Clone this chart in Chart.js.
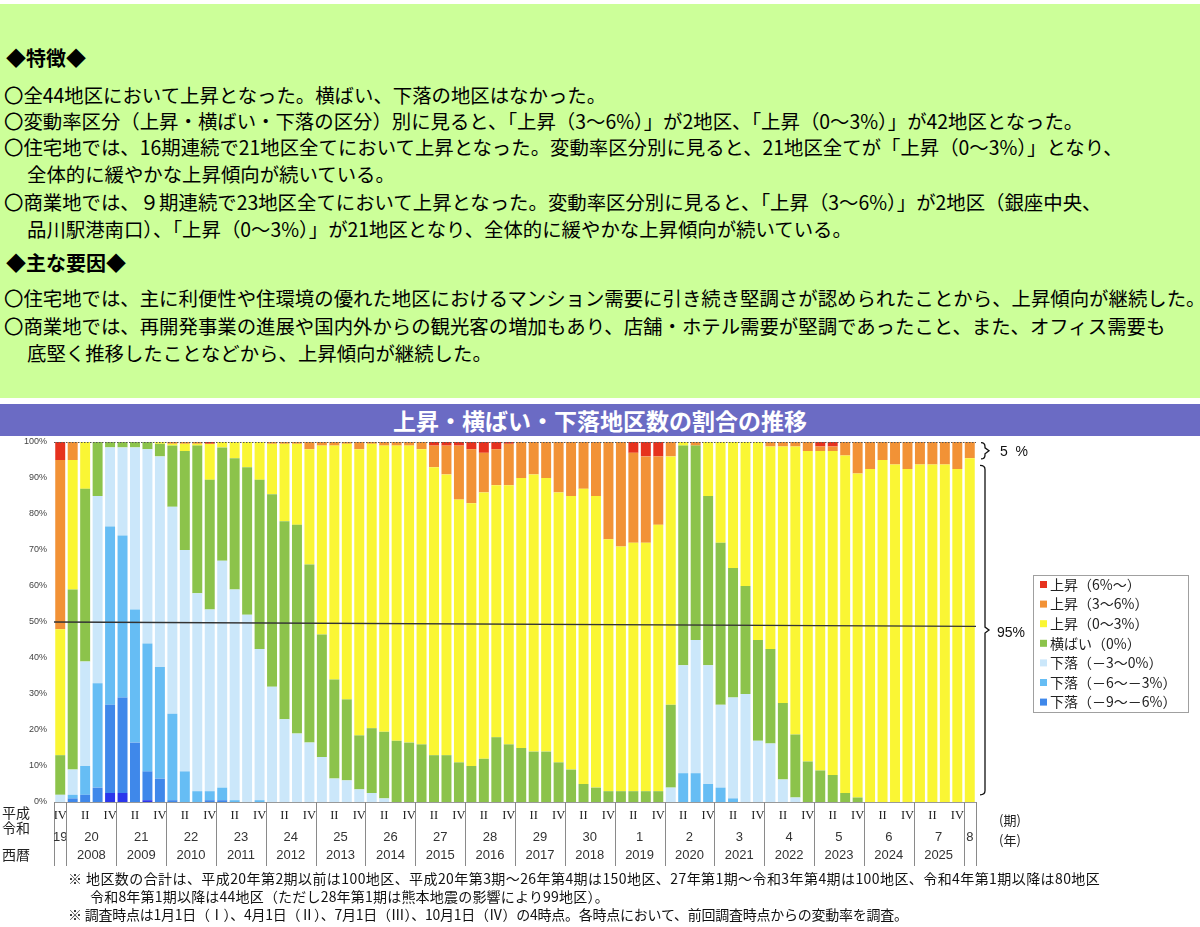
<!DOCTYPE html>
<html lang="ja">
<head>
<meta charset="utf-8">
<title>上昇・横ばい・下落地区数の割合の推移</title>
<script src="https://cdn.jsdelivr.net/npm/chart.js@4.4.1/dist/chart.umd.min.js"></script>
<style>
  html, body { margin: 0; padding: 0; background: #fff; }
  body { width: 1200px; height: 927px; position: relative; overflow: hidden;
         font-family: 'Noto Sans CJK JP', sans-serif; color: #111; }
  #summary { position: absolute; left: 0; top: 4px; width: 1200px; height: 394px; background: #ccff99; }
  #summary div { position: absolute; white-space: nowrap; font-size: 19.4px; line-height: 22px; color: #000; }
  #summary .head { font-weight: bold; font-size: 20px; }
  #title { position: absolute; left: 0; top: 404px; width: 1200px; height: 32px; background: #6b6bc4;
           color: #fff; font-size: 23px; font-weight: bold; text-align: center; line-height: 32px; }
  #chartBox { position: absolute; left: 0; top: 436px; width: 1200px; height: 434px; }
  #chartBox canvas { display: block; }
  #notes div { position: absolute; white-space: nowrap; font-size: 14px; line-height: 18px; color: #111; }
</style>
</head>
<body>
<div id="summary">
  <div class="head" style="left:6px;top:43px">◆特徴◆</div>
  <div style="left:4px;top:80px">〇全44地区において上昇となった。横ばい、下落の地区はなかった。</div>
  <div style="left:4px;top:106px">〇変動率区分（上昇・横ばい・下落の区分）別に見ると、「上昇（3〜6%）」が2地区、「上昇（0〜3%）」が42地区となった。</div>
  <div style="left:4px;top:132px">〇住宅地では、16期連続で21地区全てにおいて上昇となった。変動率区分別に見ると、21地区全てが「上昇（0〜3%）」となり、</div>
  <div style="left:27px;top:159px">全体的に緩やかな上昇傾向が続いている。</div>
  <div style="left:4px;top:187px">〇商業地では、９期連続で23地区全てにおいて上昇となった。変動率区分別に見ると、「上昇（3〜6%）」が2地区（銀座中央、</div>
  <div style="left:27px;top:214px">品川駅港南口）、「上昇（0〜3%）」が21地区となり、全体的に緩やかな上昇傾向が続いている。</div>
  <div class="head" style="left:6px;top:248px">◆主な要因◆</div>
  <div style="left:4px;top:283px">〇住宅地では、主に利便性や住環境の優れた地区におけるマンション需要に引き続き堅調さが認められたことから、上昇傾向が継続した。</div>
  <div style="left:4px;top:311px">〇商業地では、再開発事業の進展や国内外からの観光客の増加もあり、店舗・ホテル需要が堅調であったこと、また、オフィス需要も</div>
  <div style="left:27px;top:338px">底堅く推移したことなどから、上昇傾向が継続した。</div>
</div>
<div id="title">上昇・横ばい・下落地区数の割合の推移</div>
<div id="chartBox"><canvas id="ratioChart" width="1200" height="434"></canvas></div>
<div id="notes">
  <div style="left:68px;top:869px;letter-spacing:0.42px">※ 地区数の合計は、平成20年第2期以前は100地区、平成20年第3期～26年第4期は150地区、27年第1期～令和3年第4期は100地区、令和4年第1期以降は80地区</div>
  <div style="left:90px;top:887px;letter-spacing:0.2px">令和8年第1期以降は44地区（ただし28年第1期は熊本地震の影響により99地区）。</div>
  <div style="left:68px;top:905px;letter-spacing:-0.25px">※ 調査時点は1月1日（Ⅰ）、4月1日（Ⅱ）、7月1日（Ⅲ）、10月1日（Ⅳ）の4時点。各時点において、前回調査時点からの変動率を調査。</div>
</div>

<script>
// survey periods, oldest first (year-quarter)
const categories = [
  '2007-Q4',
  '2008-Q1', '2008-Q2', '2008-Q3', '2008-Q4', '2009-Q1', '2009-Q2', '2009-Q3', '2009-Q4',
  '2010-Q1', '2010-Q2', '2010-Q3', '2010-Q4', '2011-Q1', '2011-Q2', '2011-Q3', '2011-Q4',
  '2012-Q1', '2012-Q2', '2012-Q3', '2012-Q4', '2013-Q1', '2013-Q2', '2013-Q3', '2013-Q4',
  '2014-Q1', '2014-Q2', '2014-Q3', '2014-Q4', '2015-Q1', '2015-Q2', '2015-Q3', '2015-Q4',
  '2016-Q1', '2016-Q2', '2016-Q3', '2016-Q4', '2017-Q1', '2017-Q2', '2017-Q3', '2017-Q4',
  '2018-Q1', '2018-Q2', '2018-Q3', '2018-Q4', '2019-Q1', '2019-Q2', '2019-Q3', '2019-Q4',
  '2020-Q1', '2020-Q2', '2020-Q3', '2020-Q4', '2021-Q1', '2021-Q2', '2021-Q3', '2021-Q4',
  '2022-Q1', '2022-Q2', '2022-Q3', '2022-Q4', '2023-Q1', '2023-Q2', '2023-Q3', '2023-Q4',
  '2024-Q1', '2024-Q2', '2024-Q3', '2024-Q4', '2025-Q1', '2025-Q2', '2025-Q3', '2025-Q4',
  '2026-Q1'
];
const quarterTicks = { Q2: 'II', Q4: 'IV' };
const calendarYears = ['2007', '2008', '2009', '2010', '2011', '2012', '2013', '2014', '2015', '2016',
  '2017', '2018', '2019', '2020', '2021', '2022', '2023', '2024', '2025', '2026'];
const eraYears = ['19', '20', '21', '22', '23', '24', '25', '26', '27', '28',
  '29', '30', '1', '2', '3', '4', '5', '6', '7', '8'];
const westernYears = ['', '2008', '2009', '2010', '2011', '2012', '2013', '2014', '2015', '2016',
  '2017', '2018', '2019', '2020', '2021', '2022', '2023', '2024', '2025', ''];

// share of districts (%) per class, bottom of the stack first
const fall12 = [0,
  0, 0, 0, 2.5,  2.5, 0, 0.5, 0,
  0, 0, 0, 0,  0, 0, 0, 0,
  0, 0, 0, 0,  0, 0, 0, 0,
  0, 0, 0, 0,  0, 0, 0, 0,
  0, 0, 0, 0,  0, 0, 0, 0,
  0, 0, 0, 0,  0, 0, 0, 0,
  0, 0, 0, 0,  0, 0, 0, 0,
  0, 0, 0, 0,  0, 0, 0, 0,
  0, 0, 0, 0,  0, 0, 0, 0,
  0];
const fall9 = [0,
  1, 2, 4, 24.5,  26.5, 16.5, 8, 6.5,
  0.5, 0, 0, 0.5,  0.5, 0, 0, 0,
  0, 0, 0, 0,  0, 0, 0, 0,
  0, 0, 0, 0,  0, 0, 0, 0,
  0, 0, 0, 0,  0, 0, 0, 0,
  0, 0, 0, 0,  0, 0, 0, 0,
  0, 0, 0, 0,  0, 0, 0, 0,
  0, 0, 0, 0,  0, 0, 0, 0,
  0, 0, 0, 0,  0, 0, 0, 0,
  0];
const fall6 = [0,
  1, 8, 29, 49.5,  45, 37, 35.5, 31,
  24, 8.5, 3, 2.5,  3.5, 0.5, 0, 0.5,
  0, 0, 0, 0,  0, 0, 0, 0,
  0, 0, 0, 0,  0, 0, 0, 0,
  0, 0, 0, 0,  0, 0, 0, 0,
  0, 0, 0, 0,  0, 0, 0, 0,
  0, 8, 8, 5,  4, 1, 0, 0,
  0, 0, 0, 0,  0, 0, 0, 0,
  0, 0, 0, 0,  0, 0, 0, 0,
  0];
const fall3 = [2,
  7, 29, 52, 22,  24.5, 45, 54, 58.5,
  57.5, 61.5, 55, 50.5,  63, 58.5, 52, 42,
  32, 23, 19, 16.5,  12.5, 6.5, 6, 3.5,
  2.5, 1, 0, 0,  0, 0, 0, 0,
  0, 0, 0, 0,  0, 0, 0, 0,
  0, 0, 0, 0,  0, 0, 0, 0,
  4, 30, 37, 33,  23, 28, 30, 17,
  16.25, 6.25, 1.25, 0,  0, 0, 0, 0,
  0, 0, 0, 0,  0, 0, 0, 0,
  0];
const flat = [11,
  50, 48, 15, 1.5,  1.5, 1.5, 2, 3.5,
  17, 27.5, 41, 36,  31.5, 36.5, 41, 47,
  53.5, 55, 58, 49.5,  34, 27.5, 22.5, 15,
  18, 18.5, 17, 16.5,  16, 13, 13, 11,
  10, 12, 18, 16,  15, 14, 14, 11,
  9, 5, 4, 3,  3, 3, 3, 3,
  23, 61, 54, 47,  45, 36, 30, 28,
  26.25, 21.25, 17.5, 11.25,  8.75, 7.5, 2.5, 1.25,
  0, 0, 0, 0,  0, 0, 0, 0,
  0];
const rise0 = [35,
  36, 13, 0, 0,  0, 0, 0, 0.5,
  0.5, 2, 0.5, 10,  1.5, 4.5, 7, 10.5,
  14, 21.5, 22.5, 32,  52.5, 65, 71, 79.5,
  79, 79.5, 82, 82.5,  82, 80, 78, 73,
  73, 74, 70, 72,  75, 77, 76, 75,
  76, 82, 81, 70,  68, 69, 69, 74,
  69, 1, 0, 15,  28, 35, 40, 55,
  56.25, 71.25, 80, 86.25,  88.75, 90, 93.75, 90,
  92.5, 95, 93.75, 92.5,  93.75, 93.75, 93.75, 92.5,
  95.5];
const rise3 = [47,
  5, 0, 0, 0,  0, 0, 0, 0,
  0.5, 0.5, 0.5, 0,  0, 0, 0, 0,
  0.5, 0.5, 0.5, 2,  1, 1, 0.5, 2,
  0.5, 1, 1, 1,  2, 6, 8, 15,
  15, 11, 10, 11.5,  10, 9, 10, 14,
  15, 13, 15, 27,  29, 25, 24, 19,
  4, 0, 1, 0,  0, 0, 0, 0,
  1.25, 1.25, 1.25, 2.5,  1.25, 1.25, 3.75, 8.75,
  7.5, 5, 6.25, 7.5,  6.25, 6.25, 6.25, 7.5,
  4.5];
const rise6 = [5,
  0, 0, 0, 0,  0, 0, 0, 0,
  0, 0, 0, 0.5,  0, 0, 0, 0,
  0, 0, 0, 0,  0, 0, 0, 0,
  0, 0, 0, 0,  0, 1, 1, 1,
  2, 3, 2, 0.5,  0, 0, 0, 0,
  0, 0, 0, 0,  0, 3, 4, 4,
  0, 0, 0, 0,  0, 0, 0, 0,
  0, 0, 0, 0,  1.25, 1.25, 0, 0,
  0, 0, 0, 0,  0, 0, 0, 0,
  0];

const JP = "'Noto Sans CJK JP', sans-serif";
const SANS = "'Liberation Sans', Arial, sans-serif";

/**
 * Axis rows, guide lines, brackets and legend box
 */
const chartDecor = {
    id: 'chartDecor',
    afterDraw(chart) {
        const { ctx, chartArea: area, scales: { x, y } } = chart;
        const half = (x.getPixelForValue(1) - x.getPixelForValue(0)) / 2;
        ctx.save();

        // dotted top line at 100%
        const top = Math.round(y.getPixelForValue(100)) + 0.5;
        ctx.strokeStyle = '#555';
        ctx.lineWidth = 1;
        ctx.setLineDash([1.5, 1.5]);
        ctx.beginPath();
        ctx.moveTo(area.left, top);
        ctx.lineTo(area.right, top);
        ctx.stroke();
        ctx.setLineDash([]);

        // 50% guide line (drawn slightly sloping, as in the source)
        ctx.strokeStyle = '#333';
        ctx.lineWidth = 1.3;
        ctx.beginPath();
        ctx.moveTo(area.left, y.getPixelForValue(50));
        ctx.lineTo(area.right, y.getPixelForValue(48.8));
        ctx.stroke();

        // quarter row
        ctx.fillStyle = '#222';
        ctx.textAlign = 'center';
        ctx.textBaseline = 'middle';
        ctx.font = "12.5px 'Liberation Serif', serif";
        categories.forEach((c, i) => {
            const label = quarterTicks[c.slice(-2)];
            if (label) ctx.fillText(label, x.getPixelForValue(i), area.bottom + 14);
        });

        // year groups with separators
        ctx.strokeStyle = '#8a8a8a';
        ctx.lineWidth = 1;
        let lastRight = area.left;
        calendarYears.forEach((yr, g) => {
            const idx = categories.map((c, i) => (c.startsWith(yr) ? i : -1)).filter(i => i >= 0);
            const left = x.getPixelForValue(idx[0]) - half;
            const right = x.getPixelForValue(idx[idx.length - 1]) + half;
            const mid = (left + right) / 2;
            ctx.beginPath();
            ctx.moveTo(Math.round(left) + 0.5, area.bottom);
            ctx.lineTo(Math.round(left) + 0.5, area.bottom + 64);
            ctx.stroke();
            ctx.font = '13px ' + SANS;
            ctx.fillStyle = '#333';
            ctx.fillText(eraYears[g], mid, area.bottom + 35);
            if (westernYears[g]) ctx.fillText(westernYears[g], mid, area.bottom + 53);
            lastRight = right;
        });
        ctx.beginPath();
        ctx.moveTo(Math.round(lastRight) + 0.5, area.bottom);
        ctx.lineTo(Math.round(lastRight) + 0.5, area.bottom + 64);
        ctx.stroke();

        // row captions
        ctx.textAlign = 'left';
        ctx.fillStyle = '#222';
        ctx.font = '14px ' + JP;
        ctx.fillText('平成', 2, area.bottom + 11);
        ctx.fillText('令和', 2, area.bottom + 26);
        ctx.fillText('西暦', 2, area.bottom + 53);
        ctx.font = '13px ' + JP;
        ctx.fillText('(期)', 999, area.bottom + 18);
        ctx.fillText('(年)', 999, area.bottom + 38);

        // brackets on the right
        const bracket = (x0, yTop, yBot, w) => {
            const m = (yTop + yBot) / 2;
            ctx.beginPath();
            ctx.moveTo(x0, yTop);
            ctx.quadraticCurveTo(x0 + w, yTop, x0 + w, yTop + 4);
            ctx.lineTo(x0 + w, m - 3);
            ctx.lineTo(x0 + w + 4, m);
            ctx.lineTo(x0 + w, m + 3);
            ctx.lineTo(x0 + w, yBot - 4);
            ctx.quadraticCurveTo(x0 + w, yBot, x0, yBot);
            ctx.stroke();
            return m;
        };
        ctx.strokeStyle = '#111';
        ctx.lineWidth = 1.3;
        const m5 = bracket(981, y.getPixelForValue(99.8), y.getPixelForValue(95.3), 4);
        const m95 = bracket(980, y.getPixelForValue(93.5), y.getPixelForValue(2), 5);
        ctx.fillStyle = '#111';
        ctx.font = '14px ' + SANS;
        ctx.fillText('5  %', 1000, m5 + 1);
        ctx.fillText('95%', 997, m95 + 3);

        // legend box
        const items = chart.data.datasets.filter(d => !d.legendHidden).reverse();
        ctx.fillStyle = '#fff';
        ctx.fillRect(1033, 139, 155, 137);
        ctx.strokeStyle = '#a0a0a0';
        ctx.lineWidth = 1;
        ctx.strokeRect(1033.5, 139.5, 155, 137);
        ctx.font = '14px ' + JP;
        items.forEach((d, i) => {
            const ry = 148.5 + i * 19.6;
            ctx.fillStyle = d.backgroundColor;
            ctx.fillRect(1040, ry - 3.5, 7, 7);
            ctx.fillStyle = '#222';
            ctx.fillText(d.label, 1050, ry);
        });

        ctx.restore();
    }
};

new Chart(document.getElementById('ratioChart'), {
    type: 'bar',
    data: {
        labels: categories,
        datasets: [
            { label: '下落（－12～－9%）', data: fall12, backgroundColor: '#2a36ec', legendHidden: true },
            { label: '下落（－9～－6%）', data: fall9, backgroundColor: '#3f88ea' },
            { label: '下落（－6～－3%）', data: fall6, backgroundColor: '#66bdf4' },
            { label: '下落（－3～0%）', data: fall3, backgroundColor: '#cbe7fa' },
            { label: '横ばい（0%）', data: flat, backgroundColor: '#8cc34b' },
            { label: '上昇（0～3%）', data: rise0, backgroundColor: '#faf634' },
            { label: '上昇（3～6%）', data: rise3, backgroundColor: '#f29236' },
            { label: '上昇（6%～）', data: rise6, backgroundColor: '#e6321e' }
        ]
    },
    options: {
        responsive: false,
        animation: false,
        layout: { padding: { top: 6, right: 224, left: 0, bottom: 0 } },
        datasets: { bar: { barPercentage: 0.8, categoryPercentage: 1.0, borderWidth: 0 } },
        plugins: { legend: { display: false }, tooltip: { enabled: false } },
        scales: {
            x: {
                stacked: true,
                grid: { display: false, drawTicks: false },
                ticks: { display: false },
                border: { display: true, color: '#999' },
                afterFit(scale) { scale.height = 68; }
            },
            y: {
                stacked: true,
                min: 0,
                max: 100,
                grid: { display: false, drawTicks: false },
                border: { display: false },
                ticks: {
                    stepSize: 10,
                    padding: 7,
                    color: '#444',
                    font: { family: 'Liberation Sans', size: 9 },
                    callback: v => v + '%'
                },
                afterFit(scale) {
                    scale.width = 54;
                    // top label may overhang the plot; keep the plot top at the padding
                    scale.paddingTop = 0;
                    scale.paddingBottom = 0;
                }
            }
        }
    },
    plugins: [chartDecor]
});
</script>
</body>
</html>
